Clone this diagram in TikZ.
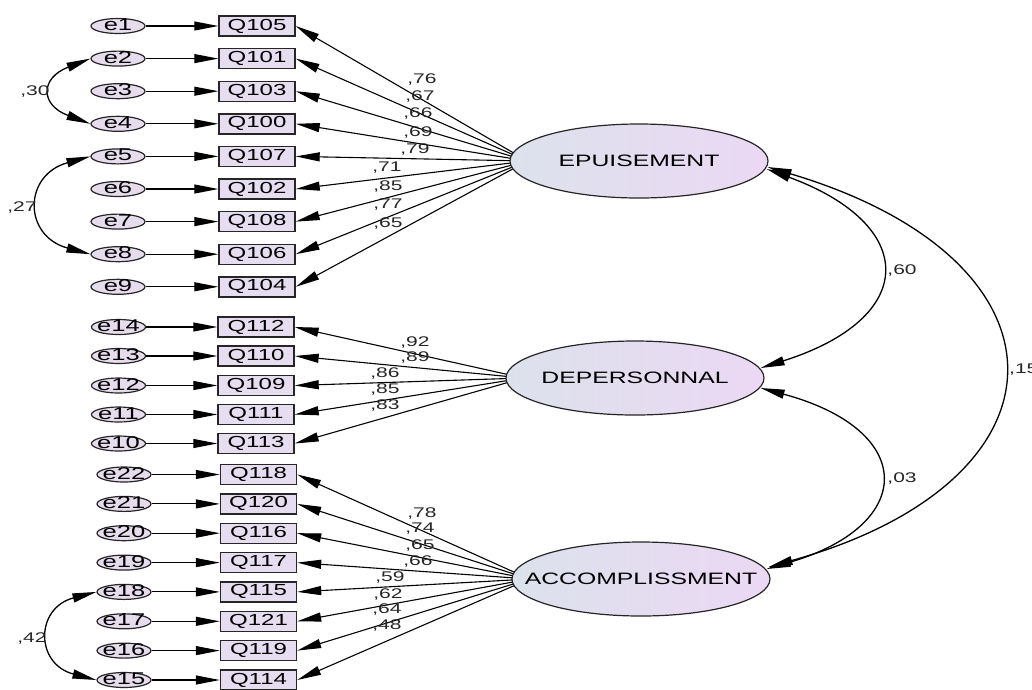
\documentclass[tikz,border=0pt]{standalone}
\usepackage{fontspec}
\usetikzlibrary{arrows.meta,shapes.geometric,calc,backgrounds}
\newfontfamily\amos[FakeStretch=1.5]{Liberation Sans}
\definecolor{boxfill}{HTML}{E6DEF0}
\definecolor{errfill}{HTML}{E6DCEE}
\definecolor{latL}{HTML}{DCE2EC}
\definecolor{latR}{HTML}{ECD8F4}
\newcommand\zw[1]{\makebox[0pt]{#1}}
\tikzset{
  obs/.style={draw=black!85, line width=1.4pt, fill=boxfill, minimum width=76pt,
    minimum height=20pt, inner sep=0pt, font=\amos\fontsize{16}{18}\selectfont},
  err/.style={ellipse, draw=black!85, line width=1.2pt, fill=errfill, minimum width=54pt,
    minimum height=15pt, inner sep=0pt, text height=9pt, text depth=0pt,
    font=\amos\fontsize{17}{18}\selectfont},
  lat/.style={ellipse, draw=black!85, line width=1.2pt, left color=latL, right color=latR,
    minimum width=258pt, minimum height=74pt, inner sep=0pt, text height=11pt, text depth=0pt,
    font=\amos\fontsize{16.5}{18}\selectfont},
  tip/.tip={Triangle[length=24pt,width=9pt]},
  load/.style={-tip, line width=1.1pt},
  cov/.style={tip-tip, line width=1.3pt},
  lab/.style={font=\amos\fontsize{14}{15}\selectfont, inner sep=0pt, text=black!85}
}
\begin{document}
\begin{tikzpicture}[x=1pt,y=-1pt]
\useasboundingbox (0,0) rectangle (1032,689);

% latent factors
\node[lat] (E) at (639,161) {\zw{EPUISEMENT}};
\node[lat] (D) at (635,378) {\zw{DEPERSONNAL}};
\node[lat] (A) at (641,579) {\zw{ACCOMPLISSMENT}};
\coordinate (Ef) at ($(E.west)+(18,0)$);
\coordinate (Df) at ($(D.west)+(18,0)$);
\coordinate (Af) at ($(A.west)+(18,0)$);

% indicators with their error terms
\foreach \e/\q/\y in {e1/Q105/26, e2/Q101/58.6, e3/Q103/91.2, e4/Q100/123.8, e5/Q107/156.4,
    e6/Q102/189, e7/Q108/221.6, e8/Q106/254.2, e9/Q104/286.8}{
  \node[err] (\e) at (118,\y) {\zw{\e}};
  \node[obs] (\q) at (257,\y) {\q};
  \draw[load] (\e) -- (\q);
  \begin{scope}[on background layer]\draw[load] (Ef) -- (\q.east);\end{scope}
}
\foreach \e/\q/\y in {e14/Q112/327, e13/Q110/356, e12/Q109/385.5, e11/Q111/414.5, e10/Q113/443.5}{
  \node[err] (\e) at (118.5,\y) {\zw{\e}};
  \node[obs] (\q) at (256,\y) {\q};
  \draw[load] (\e) -- (\q);
  \begin{scope}[on background layer]\draw[load] (Df) -- (\q.east);\end{scope}
}
\foreach \e/\q/\y in {e22/Q118/474.5, e21/Q120/503.9, e20/Q116/533.2, e19/Q117/562.6,
    e18/Q115/591.9, e17/Q121/621.3, e16/Q119/650.6, e15/Q114/680}{
  \node[err] (\e) at (124,\y) {\zw{\e}};
  \node[obs] (\q) at (258.5,\y) {\q};
  \draw[load] (\e) -- (\q);
  \begin{scope}[on background layer]\draw[load] (Af) -- (\q.east);\end{scope}
}

% standardized loadings
\foreach \n/\t/\x/\y in {a1/{,76}/422/80, a2/{,67}/420/97, a3/{,66}/418/114, a4/{,69}/418/133,
    a5/{,79}/415/150, a6/{,71}/387/168, a7/{,85}/388/187, a8/{,77}/388/205, a9/{,65}/388/224,
    b1/{,92}/415/342, b2/{,89}/415/357, b3/{,86}/385/373, b4/{,85}/385/389, b5/{,83}/385/405,
    c1/{,78}/422/513, c2/{,74}/420/529, c3/{,65}/420/545, c4/{,66}/418/561, c5/{,59}/390/577,
    c6/{,62}/388/594, c7/{,64}/387/609, c8/{,48}/387/625}{
  \node[lab] (\n) at (\x,\y) {\t};
}

% correlated errors
\draw[cov] (e2.west) .. controls (40,78) and (40,105) .. (e4.west);
\node[lab] (r30) at (35,92) {,30};
\draw[cov] (e5.west) .. controls (23,175) and (23,236) .. (e8.west);
\node[lab] (r27) at (22,207) {,27};
\draw[cov] (e18.west) .. controls (35,608) and (35,664) .. (e15.west);
\node[lab] (r42) at (32,638) {,42};

% factor correlations
\coordinate (Eo) at ($(E.east)+(-2,8)$);
\coordinate (Ei) at ($(E.east)+(-1,6)$);
\coordinate (Dt) at ($(D.east)+(-4,-10)$);
\coordinate (Db) at ($(D.east)+(-4,10)$);
\coordinate (At) at ($(A.east)+(-4,-10)$);
\coordinate (Au) at ($(A.east)+(-2,-12)$);
\draw[cov] (Eo) .. controls (919,225) and (919,318) .. (Dt);
\node[lab] (r60) at (902,270) {,60};
\draw[cov] (Db) .. controls (917,430) and (917,525) .. (At);
\node[lab] (r03) at (902,478) {,03};
\draw[cov] (Ei) .. controls (1080,260) and (1080,480) .. (Au);
\node[lab, anchor=west] (r15) at (1009,370) {,15};
\end{tikzpicture}
\end{document}
